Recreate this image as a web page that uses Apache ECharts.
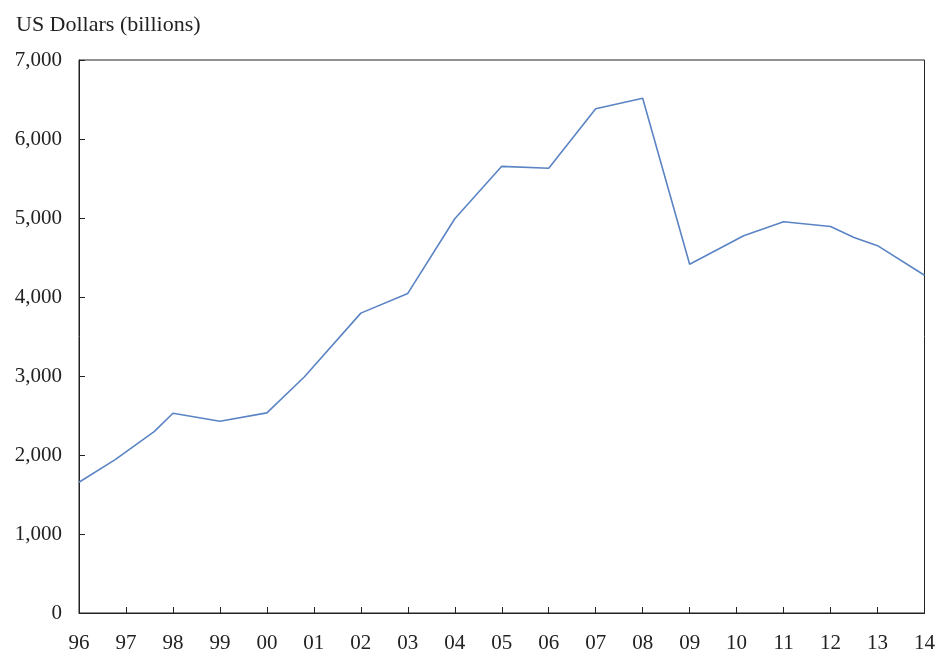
<!DOCTYPE html>
<html lang="en">
<head>
<meta charset="UTF-8">
<title>US Dollars (billions)</title>
<script src="https://cdn.jsdelivr.net/npm/echarts@6/dist/echarts.min.js"></script>
<style>
  html, body { margin: 0; padding: 0; background: #fff; }
  #chart { width: 938px; height: 654px; }
</style>
</head>
<body>
<div id="chart"></div>
<script>
// points (x = year, fractional where the kink falls between years)
var years = [1996, 1996.77, 1997.6, 1998, 1999, 2000, 2000.8, 2002, 2003, 2004, 2005, 2006, 2007, 2008, 2009, 2010.15, 2011, 2012, 2012.5, 2013, 2014];
var values = [1655, 1942, 2295, 2528, 2428, 2533, 2990, 3796, 4045, 4990, 5654, 5629, 6382, 6516, 4414, 4775, 4953, 4893, 4753, 4650, 4275];
var yTicks = [0, 1000, 2000, 3000, 4000, 5000, 6000, 7000];

var seriesData = [];
for (var i = 0; i < years.length; i++) {
    seriesData.push([years[i], values[i]]);
}

var font = 'Liberation Serif';
var chart = echarts.init(document.getElementById('chart'), null, { renderer: 'canvas' });

chart.setOption({
    animation: false,
    title: {
        text: 'US Dollars (billions)',
        left: 11, top: 9,
        textStyle: { fontFamily: font, fontSize: 22, fontWeight: 'normal', color: '#222' }
    },
    grid: {
        left: 79, right: 6, top: 60, bottom: 37,
        show: true, borderColor: '#222', borderWidth: 1
    },
    xAxis: {
        type: 'value',
        min: 1996, max: 2014, interval: 1,
        splitLine: { show: false },
        axisLine: { lineStyle: { color: '#222', width: 1 } },
        axisTick: { inside: true, length: 6, lineStyle: { color: '#222' } },
        axisLabel: {
            margin: 20,
            fontFamily: font, fontSize: 21, color: '#222',
            formatter: function (v) { return String(v % 100).padStart(2, '0'); }
        }
    },
    yAxis: {
        type: 'value',
        min: yTicks[0], max: yTicks[yTicks.length - 1], interval: 1000,
        splitLine: { show: false },
        axisLine: { show: true, lineStyle: { color: '#222', width: 1 } },
        axisTick: { show: true, inside: true, length: 6, lineStyle: { color: '#222' } },
        axisLabel: {
            margin: 17,
            fontFamily: font, fontSize: 21, color: '#222',
            formatter: function (v) { return v.toLocaleString('en-US'); }
        }
    },
    series: [{
        type: 'line',
        data: seriesData,
        showSymbol: false,
        lineStyle: { color: '#5b84c4', width: 1.6 }
    }]
});
</script>
</body>
</html>
